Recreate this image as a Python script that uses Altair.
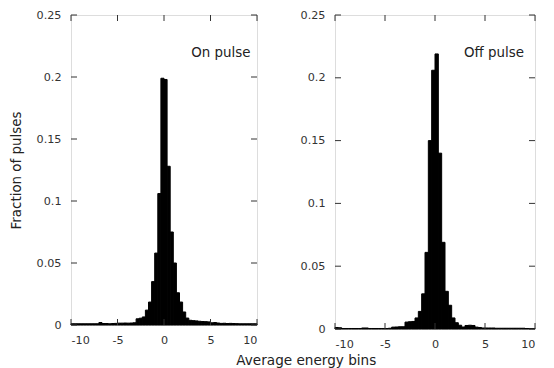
import altair as alt
import pandas as pd

# ---- data ----
bin_start = -10.0
bin_width = 1.0 / 3.0

on_pulse = [
    0.001, 0.001, 0.001, 0.001, 0.001, 0.001, 0.001, 0.001, 0.001, 0.002,
    0.0012, 0.0012, 0.001, 0.0012, 0.0013, 0.0015, 0.0015, 0.0016, 0.0015, 0.0016,
    0.0018, 0.005, 0.0055, 0.0065, 0.012, 0.0185, 0.035, 0.058, 0.106, 0.199,
    0.198, 0.128, 0.075, 0.050, 0.026, 0.0185, 0.0105, 0.0056, 0.0038, 0.0035,
    0.0033, 0.003, 0.0028, 0.0027, 0.0025, 0.0018, 0.002, 0.0016, 0.0013, 0.0014,
    0.0012, 0.0013, 0.0012, 0.0011, 0.001, 0.001, 0.001, 0.001, 0.001, 0.001,
]

off_pulse = [
    0.0012, 0.001, 0.0004, 0.0004, 0.0004, 0.0004, 0.0004, 0.0004, 0.0008, 0.0008,
    0.0004, 0.0004, 0.0004, 0.0004, 0.0004, 0.0004, 0.0006, 0.0015, 0.0016, 0.0018,
    0.0018, 0.0055, 0.0058, 0.006, 0.0088, 0.014, 0.028, 0.061, 0.150, 0.206,
    0.219, 0.140, 0.069, 0.030, 0.0189, 0.0088, 0.005, 0.003, 0.0016, 0.0028,
    0.003, 0.0028, 0.0015, 0.0012, 0.0008, 0.0008, 0.0008, 0.0008, 0.0006, 0.0006,
    0.0006, 0.0006, 0.0006, 0.0006, 0.0006, 0.0006, 0.0006, 0.0004, 0.0004, 0.0004,
]

x_ticks = [-10, -5, 0, 5, 10]
y_ticks = [0, 0.05, 0.1, 0.15, 0.2, 0.25]
labels = ["On pulse", "Off pulse"]
label_x = [9.3, 8.9]
label_y = [0.219, 0.22]

FONT = "DejaVu Sans"
FRAME = "#333333"
TICK_LEN = 6


def panel(values, label, lx, ly, w, h, show_title):
    df = pd.DataFrame({
        "x0": [bin_start + i * bin_width for i in range(len(values))],
        "x1": [bin_start + (i + 1) * bin_width for i in range(len(values))],
        "v": values,
    })
    xscale = alt.Scale(domain=[-10, 10], nice=False, zero=False)
    yscale = alt.Scale(domain=[0, 0.25], nice=False)
    xaxis = alt.Axis(values=x_ticks, labelExpr="'' + datum.value", title=None,
                     ticks=False, tickSize=0, domain=False, grid=False,
                     labelPadding=9, labelFontSize=11.2, labelFont=FONT,
                     labelColor="#333333")
    yaxis = alt.Axis(values=y_ticks, format="~g",
                     title="Fraction of pulses" if show_title else None,
                     ticks=False, tickSize=0, domain=False, grid=False,
                     labelPadding=10, labelFontSize=11.2, labelFont=FONT,
                     labelColor="#333333", titleFont=FONT, titleFontSize=13.4,
                     titleFontWeight="normal", titleColor="#222222",
                     titlePadding=13)
    bars = alt.Chart(df).mark_rect(color="black", stroke="black", strokeWidth=1).encode(
        x=alt.X("x0:Q", scale=xscale, axis=xaxis),
        x2="x1:Q",
        y=alt.Y("v:Q", scale=yscale, axis=yaxis),
        y2=alt.datum(0),
    )
    xt = pd.DataFrame({"x0": x_ticks})
    yt = pd.DataFrame({"v": y_ticks})
    bottom = alt.Chart(xt).mark_rule(color=FRAME).encode(
        x=alt.X("x0:Q", scale=xscale, axis=xaxis), y=alt.value(h), y2=alt.value(h - TICK_LEN))
    top = alt.Chart(xt).mark_rule(color=FRAME).encode(
        x=alt.X("x0:Q", scale=xscale, axis=xaxis), y=alt.value(0), y2=alt.value(TICK_LEN))
    left = alt.Chart(yt).mark_rule(color=FRAME).encode(
        y=alt.Y("v:Q", scale=yscale, axis=yaxis), x=alt.value(0), x2=alt.value(TICK_LEN))
    right = alt.Chart(yt).mark_rule(color=FRAME).encode(
        y=alt.Y("v:Q", scale=yscale, axis=yaxis), x=alt.value(w), x2=alt.value(w - TICK_LEN))
    tdf = pd.DataFrame({"label": [label], "x0": [lx], "v": [ly]})
    text = alt.Chart(tdf).mark_text(align="right", baseline="middle", font=FONT,
                                    fontSize=13.4, color="#222222").encode(
        x=alt.X("x0:Q", scale=xscale, axis=xaxis),
        y=alt.Y("v:Q", scale=yscale, axis=yaxis),
        text="label:N",
    )
    return alt.layer(bars, bottom, top, left, right, text).properties(width=w, height=h)


left_panel = panel(on_pulse, labels[0], label_x[0], label_y[0], 186, 310, True)
right_panel = panel(off_pulse, labels[1], label_x[1], label_y[1], 200, 314, False)

chart = alt.hconcat(left_panel, right_panel, spacing=41).properties(
    padding={"left": 0, "top": 0, "right": 0, "bottom": 0},
    title=alt.TitleParams("Average energy bins", orient="bottom", anchor="middle",
                          font=FONT, fontSize=13.6, fontWeight="normal",
                          color="#222222", offset=4, dx=34),
).configure_view(stroke=FRAME, strokeWidth=1).configure(background="white")

chart.save("out.html", embed_options={"renderer": "svg", "actions": False})
